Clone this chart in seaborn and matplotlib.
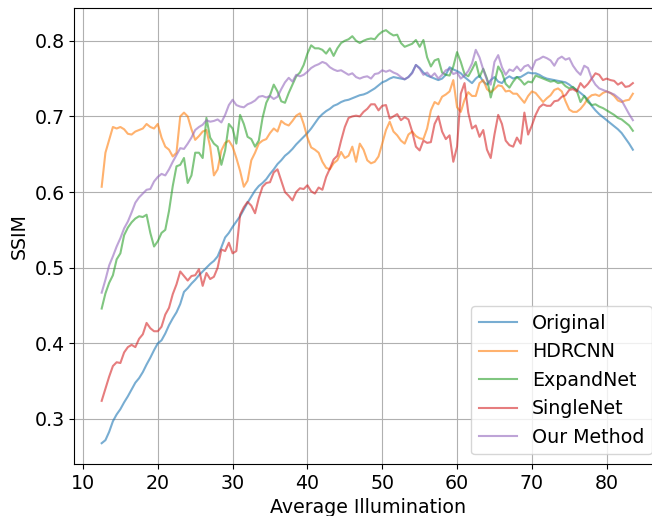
import numpy as np
import pandas as pd
import matplotlib
matplotlib.use('Agg')
import matplotlib.pyplot as plt
import seaborn as sns

# x grid: average illumination, step 0.5 starting at 12.5
x_start = 12.5
x_step = 0.5

methods = ['Original', 'HDRCNN', 'ExpandNet', 'SingleNet', 'Our Method']

original = [
    0.268, 0.272, 0.283, 0.297, 0.306, 0.313, 0.322, 0.330, 0.339, 0.348,
    0.354, 0.362, 0.372, 0.381, 0.391, 0.400, 0.404, 0.413, 0.424, 0.433,
    0.441, 0.452, 0.468, 0.473, 0.479, 0.484, 0.490, 0.495, 0.500, 0.505,
    0.509, 0.515, 0.527, 0.540, 0.546, 0.554, 0.561, 0.568, 0.577, 0.586,
    0.594, 0.602, 0.608, 0.612, 0.617, 0.624, 0.630, 0.637, 0.642, 0.648,
    0.652, 0.657, 0.663, 0.668, 0.673, 0.678, 0.684, 0.691, 0.698, 0.703,
    0.707, 0.710, 0.714, 0.716, 0.719, 0.721, 0.722, 0.724, 0.726, 0.728,
    0.729, 0.731, 0.734, 0.737, 0.741, 0.745, 0.747, 0.750, 0.752, 0.751,
    0.750, 0.749, 0.752, 0.758, 0.768, 0.764, 0.758, 0.754, 0.752, 0.750,
    0.748, 0.750, 0.755, 0.765, 0.762, 0.760, 0.757, 0.752, 0.748, 0.744,
    0.750, 0.754, 0.746, 0.742, 0.748, 0.752, 0.746, 0.744, 0.750, 0.753,
    0.750, 0.752, 0.752, 0.755, 0.758, 0.757, 0.757, 0.755, 0.752, 0.750,
    0.749, 0.748, 0.747, 0.746, 0.745, 0.742, 0.738, 0.735, 0.731, 0.727,
    0.722, 0.714, 0.708, 0.703, 0.699, 0.695, 0.691, 0.687, 0.683, 0.678,
    0.671, 0.664, 0.656,
]

hdrcnn = [
    0.607, 0.652, 0.669, 0.686, 0.684, 0.686, 0.683, 0.677, 0.676, 0.680,
    0.682, 0.684, 0.690, 0.686, 0.684, 0.690, 0.672, 0.660, 0.656, 0.647,
    0.652, 0.700, 0.705, 0.700, 0.683, 0.669, 0.674, 0.680, 0.682, 0.660,
    0.622, 0.630, 0.655, 0.665, 0.668, 0.660, 0.645, 0.628, 0.607, 0.615,
    0.642, 0.652, 0.664, 0.668, 0.670, 0.678, 0.684, 0.680, 0.694, 0.690,
    0.688, 0.694, 0.701, 0.704, 0.690, 0.672, 0.659, 0.656, 0.652, 0.640,
    0.632, 0.630, 0.638, 0.642, 0.653, 0.645, 0.648, 0.660, 0.640, 0.664,
    0.656, 0.642, 0.638, 0.640, 0.647, 0.664, 0.682, 0.693, 0.680, 0.675,
    0.668, 0.664, 0.676, 0.680, 0.674, 0.671, 0.670, 0.684, 0.708, 0.719,
    0.716, 0.726, 0.729, 0.733, 0.748, 0.712, 0.706, 0.722, 0.732, 0.727,
    0.727, 0.744, 0.748, 0.736, 0.732, 0.736, 0.741, 0.740, 0.733, 0.734,
    0.730, 0.730, 0.724, 0.718, 0.727, 0.733, 0.731, 0.725, 0.719, 0.724,
    0.728, 0.735, 0.737, 0.733, 0.720, 0.709, 0.706, 0.706, 0.710, 0.716,
    0.724, 0.728, 0.729, 0.727, 0.731, 0.733, 0.731, 0.727, 0.721, 0.719,
    0.721, 0.722, 0.730,
]

expandnet = [
    0.446, 0.466, 0.480, 0.490, 0.511, 0.519, 0.543, 0.553, 0.560, 0.565,
    0.568, 0.567, 0.570, 0.546, 0.528, 0.535, 0.546, 0.550, 0.575, 0.608,
    0.634, 0.636, 0.645, 0.612, 0.622, 0.652, 0.652, 0.645, 0.698, 0.672,
    0.664, 0.660, 0.636, 0.655, 0.690, 0.684, 0.664, 0.702, 0.690, 0.673,
    0.670, 0.660, 0.668, 0.698, 0.718, 0.728, 0.742, 0.733, 0.720, 0.718,
    0.731, 0.742, 0.753, 0.758, 0.768, 0.783, 0.794, 0.790, 0.790, 0.788,
    0.783, 0.790, 0.780, 0.790, 0.797, 0.800, 0.802, 0.806, 0.800, 0.797,
    0.800, 0.802, 0.803, 0.802, 0.808, 0.812, 0.814, 0.810, 0.807, 0.808,
    0.797, 0.792, 0.794, 0.796, 0.801, 0.792, 0.801, 0.778, 0.766, 0.774,
    0.776, 0.758, 0.755, 0.754, 0.766, 0.785, 0.772, 0.756, 0.753, 0.762,
    0.772, 0.752, 0.763, 0.750, 0.725, 0.744, 0.766, 0.758, 0.743, 0.738,
    0.746, 0.752, 0.748, 0.742, 0.746, 0.745, 0.754, 0.752, 0.750, 0.748,
    0.746, 0.747, 0.744, 0.745, 0.740, 0.737, 0.739, 0.734, 0.719, 0.727,
    0.719, 0.715, 0.716, 0.713, 0.711, 0.708, 0.705, 0.702, 0.698, 0.696,
    0.692, 0.688, 0.681,
]

singlenet = [
    0.324, 0.340, 0.356, 0.370, 0.375, 0.374, 0.388, 0.395, 0.398, 0.395,
    0.406, 0.412, 0.427, 0.420, 0.416, 0.416, 0.422, 0.438, 0.447, 0.465,
    0.478, 0.495, 0.489, 0.483, 0.489, 0.490, 0.498, 0.476, 0.493, 0.485,
    0.488, 0.500, 0.524, 0.522, 0.533, 0.519, 0.522, 0.570, 0.580, 0.587,
    0.582, 0.572, 0.592, 0.607, 0.612, 0.613, 0.626, 0.630, 0.615, 0.600,
    0.595, 0.589, 0.600, 0.605, 0.604, 0.609, 0.601, 0.598, 0.606, 0.603,
    0.620, 0.631, 0.643, 0.648, 0.668, 0.686, 0.698, 0.700, 0.701, 0.700,
    0.706, 0.710, 0.716, 0.716, 0.708, 0.714, 0.715, 0.697, 0.700, 0.703,
    0.695, 0.699, 0.696, 0.680, 0.660, 0.655, 0.668, 0.665, 0.666, 0.690,
    0.700, 0.680, 0.670, 0.675, 0.640, 0.660, 0.730, 0.744, 0.705, 0.684,
    0.688, 0.673, 0.682, 0.656, 0.645, 0.676, 0.702, 0.690, 0.668, 0.662,
    0.660, 0.672, 0.664, 0.705, 0.676, 0.688, 0.702, 0.712, 0.716, 0.714,
    0.714, 0.720, 0.721, 0.726, 0.728, 0.735, 0.736, 0.733, 0.744, 0.738,
    0.743, 0.750, 0.757, 0.755, 0.748, 0.750, 0.748, 0.747, 0.742, 0.745,
    0.739, 0.740, 0.744,
]

our_method = [
    0.467, 0.484, 0.503, 0.515, 0.528, 0.539, 0.552, 0.561, 0.573, 0.586,
    0.593, 0.598, 0.603, 0.604, 0.614, 0.620, 0.624, 0.622, 0.630, 0.640,
    0.649, 0.658, 0.657, 0.664, 0.672, 0.682, 0.686, 0.689, 0.695, 0.693,
    0.694, 0.696, 0.692, 0.702, 0.715, 0.722, 0.715, 0.713, 0.712, 0.716,
    0.718, 0.721, 0.726, 0.727, 0.725, 0.727, 0.723, 0.726, 0.736, 0.745,
    0.751, 0.746, 0.755, 0.753, 0.755, 0.759, 0.764, 0.767, 0.769, 0.772,
    0.770, 0.765, 0.762, 0.760, 0.761, 0.758, 0.755, 0.757, 0.752, 0.750,
    0.752, 0.753, 0.750, 0.756, 0.757, 0.761, 0.759, 0.761, 0.758, 0.756,
    0.752, 0.749, 0.752, 0.757, 0.768, 0.763, 0.755, 0.758, 0.752, 0.757,
    0.750, 0.755, 0.761, 0.763, 0.756, 0.758, 0.750, 0.754, 0.760, 0.770,
    0.788, 0.778, 0.762, 0.748, 0.742, 0.772, 0.781, 0.765, 0.755, 0.762,
    0.760, 0.766, 0.760, 0.766, 0.768, 0.762, 0.774, 0.776, 0.779, 0.777,
    0.774, 0.767, 0.776, 0.779, 0.775, 0.777, 0.767, 0.760, 0.755, 0.767,
    0.764, 0.750, 0.742, 0.737, 0.735, 0.733, 0.731, 0.729, 0.725, 0.721,
    0.712, 0.703, 0.695,
]

# long-form table for seaborn
rows = []
for name, vals in zip(methods, [original, hdrcnn, expandnet, singlenet, our_method]):
    for i, v in enumerate(vals):
        rows.append((x_start + x_step * i, v, name))
df = pd.DataFrame(rows, columns=['illum', 'ssim', 'method'])

plt.rcParams['font.family'] = ['DejaVu Sans']
fs = 13.7

fig = plt.figure(figsize=(6.52, 5.16), dpi=100)
# the original figure is cut off on the right, so the axes run past the edge
ax = fig.add_axes([74.3 / 652, 52 / 516, 0.9003, 456 / 516])

sns.lineplot(data=df, x='illum', y='ssim', hue='method', hue_order=methods,
             palette='tab10', alpha=0.6, linewidth=1.5, estimator=None,
             errorbar=None, ax=ax)

ax.set_xlim(8.84, 87.3)
ax.set_ylim(0.2405, 0.8433)
ax.set_xticks([10, 20, 30, 40, 50, 60, 70, 80])
ax.set_yticks([0.3, 0.4, 0.5, 0.6, 0.7, 0.8])
ax.grid(True, color='#b0b0b0', linewidth=0.8)
ax.tick_params(labelsize=fs)
ax.set_xlabel('Average Illumination', fontsize=fs)
ax.set_ylabel('SSIM', fontsize=fs)

leg = ax.legend(loc='lower right', fontsize=fs)
for line in leg.get_lines():
    line.set_alpha(0.6)

fig.savefig('out.png', dpi=100)
